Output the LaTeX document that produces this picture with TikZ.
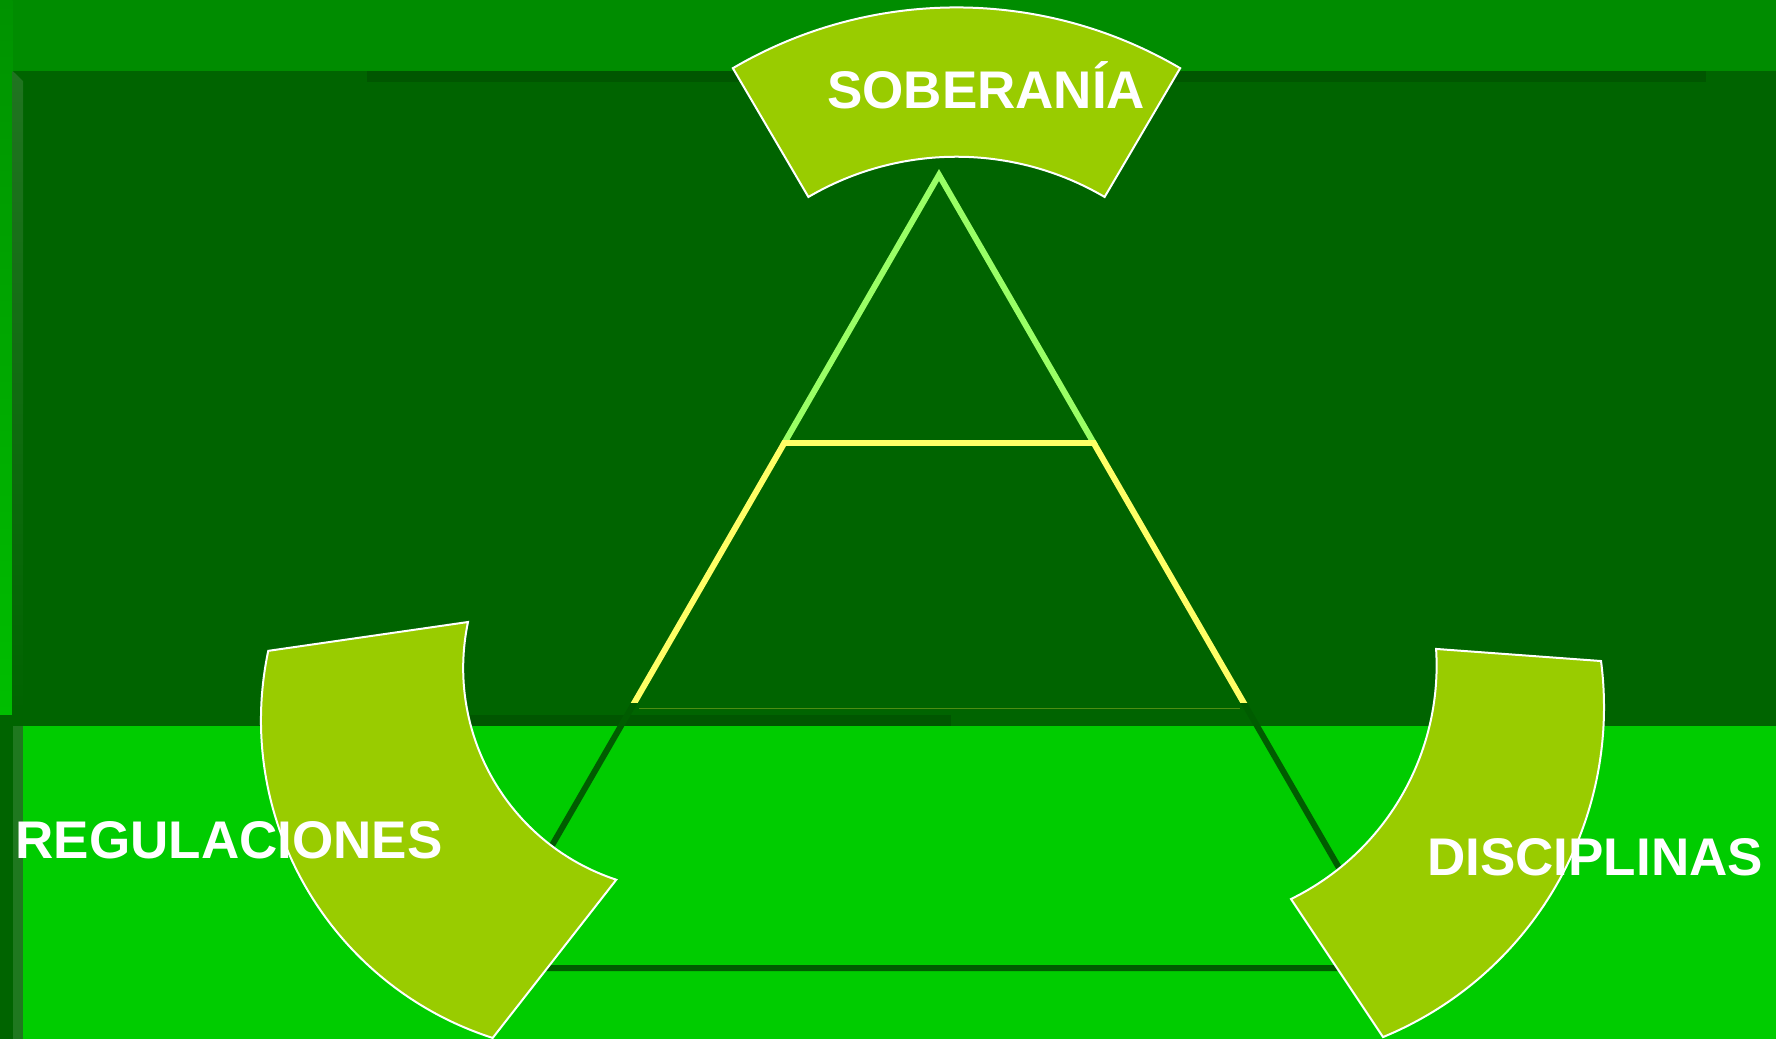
\documentclass[tikz,border=0pt]{standalone}
\usepackage{fontspec}
\setmainfont{Liberation Sans}
\definecolor{topband}{HTML}{008C00}
\definecolor{leftcolTop}{HTML}{009200}
\definecolor{leftcolBot}{HTML}{00BE00}
\definecolor{darkbg}{HTML}{006400}
\definecolor{darkstrip}{HTML}{005600}
\definecolor{bevel}{HTML}{207420}
\definecolor{bevelB}{HTML}{1F781F}
\definecolor{brightbg}{HTML}{00CC00}
\definecolor{shapefill}{HTML}{99CC00}
\definecolor{lightline}{HTML}{99FF66}
\definecolor{yelline}{HTML}{FFFF66}
\definecolor{triline}{HTML}{005C00}
\definecolor{oliveline}{HTML}{4E8E12}
\begin{document}
\begin{tikzpicture}[x=1pt,y=-1pt,
  blockarc/.style={fill=shapefill, draw=white, line width=2pt, line join=miter},
  lbl/.style={text=white, font=\fontsize{53}{53}\selectfont\bfseries, inner sep=0pt, anchor=base west},
  triedge/.style={line width=6pt, line join=miter}]
\useasboundingbox (0,0) rectangle (1776,1039);
% ---------- background ----------
\fill[topband] (0,0) rectangle (1776,1039);
\shade[top color=leftcolTop, bottom color=leftcolBot] (0,0) rectangle (12.7,715);
\fill[darkbg] (12.7,71) rectangle (1776,715);
\fill[darkstrip] (367,71) rectangle (1706,82);
\shade[top color=bevel, bottom color=darkbg] (12.7,71) -- (23,81) -- (23,715) -- (12.7,715) -- cycle;
\fill[darkbg] (0,715) rectangle (1776,726);
\fill[darkstrip] (400,715) rectangle (951,726);
\fill[brightbg] (0,726) rectangle (1776,1039);
\fill[darkbg] (0,726) rectangle (12.7,1039);
\fill[bevelB] (12.7,726) rectangle (22.7,1039);
% ---------- triangle ----------
\coordinate (apex) at (939,175);
\coordinate (bl) at (481.2,968);
\coordinate (br) at (1396.8,968);
\coordinate (ml) at (784.3,443);
\coordinate (mr) at (1093.7,443);
\draw[triedge, triline] (apex) -- (bl) -- (br) -- cycle;
\begin{scope}
  \clip (0,0) rectangle (1776,443);
  \draw[triedge, lightline] (bl) -- (apex) -- (br);
\end{scope}
\begin{scope}
  \clip (0,440) rectangle (1776,702);
  \draw[triedge, yelline] (apex) -- (bl);
  \draw[triedge, yelline] (apex) -- (br);
\end{scope}
\draw[triedge, yelline] (ml) -- (mr);
\coordinate (ol) at (639,708.3);
\coordinate (or) at (1240,708.3);
\draw[oliveline, line width=1.2pt] (ol) -- (or);
% ---------- block arcs ----------
\path[blockarc] ([shift={(-120.4:442)}]956.5,449.4)
  arc[start angle=-120.4, end angle=-59.6, radius=442]
  -- ([shift={(-59.6:292.7)}]956.5,449.4)
  arc[start angle=-59.6, end angle=-120.4, radius=292.7] -- cycle;
\path[blockarc] ([shift={(107.84:334)}]595,720)
  arc[start angle=107.84, end angle=191.95, radius=334]
  -- (468,622)
  arc[start angle=191.9, end angle=108.28, radius=223] -- cycle;
\path[blockarc] ([shift={(-7.4:357)}]1247,707)
  arc[start angle=-7.4, end angle=67.6, radius=357]
  -- (1291,899)
  arc[start angle=63.9, end angle=-3.66, radius=260] -- cycle;
% ---------- labels ----------
\node[lbl] (sob) at (827,108.3) {SOBERANÍA};
\node[lbl] (reg) at (15.5,858) {REGULACIONES};
\node[lbl] (dis) at (1427,875.5) {DISCIPLINAS};
\end{tikzpicture}
\end{document}
